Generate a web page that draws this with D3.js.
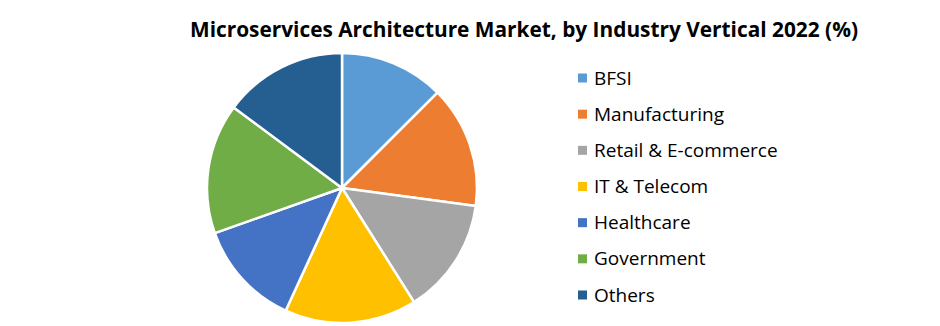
<!DOCTYPE html>
<html>
<head>
<meta charset="utf-8">
<script src="https://cdn.jsdelivr.net/npm/d3@7"></script>
<style>
    body { margin: 0; background: #fff; }
    text { font-family: "Open Sans", "Noto Sans", sans-serif; }
</style>
</head>
<body>
<div id="chart"></div>
<script>
// Data
var categories = ["BFSI", "Manufacturing", "Retail & E-commerce", "IT & Telecom", "Healthcare", "Government", "Others"]
var shares = [12.5, 14.6, 13.9, 15.8, 12.7, 15.6, 14.8]
var colors = ["#5B9BD5", "#ED7D31", "#A5A5A5", "#FFC000", "#4472C4", "#70AD47", "#255E91"]
var title = "Microservices Architecture Market, by Industry Vertical 2022 (%)"

var width = 940, height = 326
var cx = 342, cy = 188, radius = 135

var svg = d3
    .select("#chart")
    .append("svg")
    .attr("width", width)
    .attr("height", height)

// Title
svg
    .append("text")
    .attr("x", 524)
    .attr("y", 37)
    .attr("text-anchor", "middle")
    .style("font-weight", "bold")
    .style("font-size", "21px")
    .attr("textLength", 668)
    .attr("lengthAdjust", "spacingAndGlyphs")
    .text(title)

// Pie
var pie = d3.pie().sort(null).value(d => d)
var arc = d3.arc().innerRadius(0).outerRadius(radius)
var color = d3.scaleOrdinal().domain(categories).range(colors)

svg
    .append("g")
    .attr("transform", "translate(" + cx + "," + cy + ")")
    .selectAll("path")
    .data(pie(shares))
    .enter()
    .append("path")
    .attr("d", arc)
    .style("fill", (d, i) => color(categories[i]))
    .style("stroke", "#fff")
    .style("stroke-width", 2.5)
    .style("stroke-linejoin", "round")

// Legend
var legendY = d3.scalePoint().domain(categories).range([78, 295])

var legend = svg
    .append("g")
    .selectAll("g")
    .data(categories)
    .enter()
    .append("g")
    .attr("transform", d => "translate(578," + legendY(d) + ")")

legend
    .append("rect")
    .attr("x", 0)
    .attr("y", -4.5)
    .attr("width", 9)
    .attr("height", 9)
    .style("fill", d => color(d))

legend
    .append("text")
    .attr("x", 16)
    .attr("y", 0)
    .attr("dy", "0.35em")
    .style("font-size", "19px")
    .style("fill", "#000")
    .text(d => d)
</script>
</body>
</html>
